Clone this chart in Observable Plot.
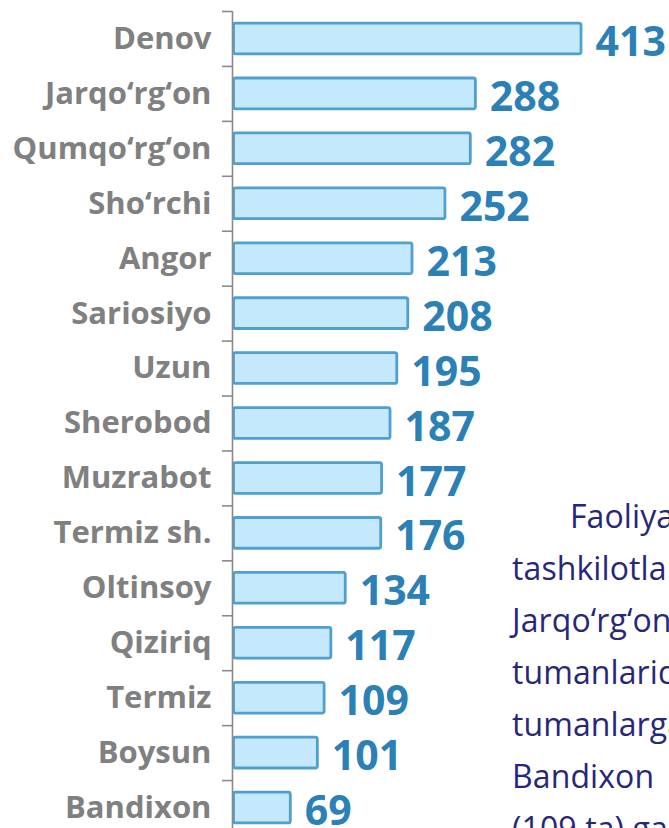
<!DOCTYPE html>
<html>
<head>
<meta charset="utf-8">
<script src="https://cdn.jsdelivr.net/npm/d3@7"></script>
<script src="https://cdn.jsdelivr.net/npm/@observablehq/plot@0.6"></script>
<style>
  html, body { margin: 0; padding: 0; background: #fff; overflow: hidden; width: 669px; height: 828px; }
  #wrap { position: relative; width: 669px; height: 828px; overflow: hidden; }
  #note { position: absolute; left: 512px; top: 0; font-family: "Open Sans", sans-serif; font-size: 32px; letter-spacing: 0.1px; color: #27277a; white-space: nowrap; }
  #note div { position: absolute; left: 0; white-space: pre; }
</style>
</head>
<body>
<div id="wrap"><div id="chart"></div><div id="note"></div></div>
<script>
const districts = ["Denov", "Jarqo‘rg‘on", "Qumqo‘rg‘on", "Sho‘rchi", "Angor", "Sariosiyo", "Uzun", "Sherobod", "Muzrabot", "Termiz sh.", "Oltinsoy", "Qiziriq", "Termiz", "Boysun", "Bandixon"];
const counts = [413, 288, 282, 252, 213, 208, 195, 187, 177, 176, 134, 117, 109, 101, 69];
const noteLines = ["Faoliyat ko‘rsatayotgan", "tashkilotlar soni bo‘yicha Denov,", "Jarqo‘rg‘on va Qumqo‘rg‘on", "tumanlarida eng ko‘p, Termiz va Boysun", "tumanlarga nisbatan kam, eng kam", "Bandixon     (69 ta) va Termiz", "(109 ta) ga to‘g‘ri keladi."];

const data = districts.map((name, i) => ({name, value: counts[i]}));

const W = 669, mL = 232, mR = 88, mT = 11, H = 835;
const maxV = d3.max(counts);
const pxPerUnit = (W - mL - mR) / maxV;
const tickLen = 10 / pxPerUnit;
const step = (H - mT) / districts.length;

const chart = Plot.plot({
  width: W,
  height: H,
  marginLeft: mL,
  marginRight: mR,
  marginTop: mT,
  marginBottom: 0,
  style: {fontFamily: "'Open Sans', sans-serif", background: "white"},
  x: {domain: [0, maxV], axis: null},
  y: {domain: districts, axis: null, paddingInner: 0.44, paddingOuter: 0.22, round: false},
  marks: [
    Plot.barX(data, {y: "name", x: "value", fill: "#c4e9fd", stroke: "#4f9fd0", strokeWidth: 2.8, rx: 2, insetLeft: 1.5}),
    Plot.ruleX([0], {stroke: "#8a8a8a", strokeWidth: 1.6}),
    Plot.ruleY(data, {y: "name", x1: -tickLen, x2: 0, dy: -step / 2, stroke: "#8a8a8a", strokeWidth: 1.6}),
    Plot.text(data, {x: 0, y: "name", text: "name", textAnchor: "end", dx: -21, fontSize: 31, fontWeight: "bold", fill: "#808080"}),
    Plot.text(data, {x: "value", y: "name", text: d => String(d.value), textAnchor: "start", dx: 14, dy: 4, fontSize: 41, fontWeight: "bold", fill: "#2b80b6"})
  ]
});
document.getElementById("chart").appendChild(chart);

const note = document.getElementById("note");
noteLines.forEach((t, i) => {
  const div = document.createElement("div");
  div.textContent = t;
  div.style.top = (528 - 34 + i * 52) + "px";
  if (i === 0) div.style.left = "58px";
  note.appendChild(div);
});
</script>
</body>
</html>
